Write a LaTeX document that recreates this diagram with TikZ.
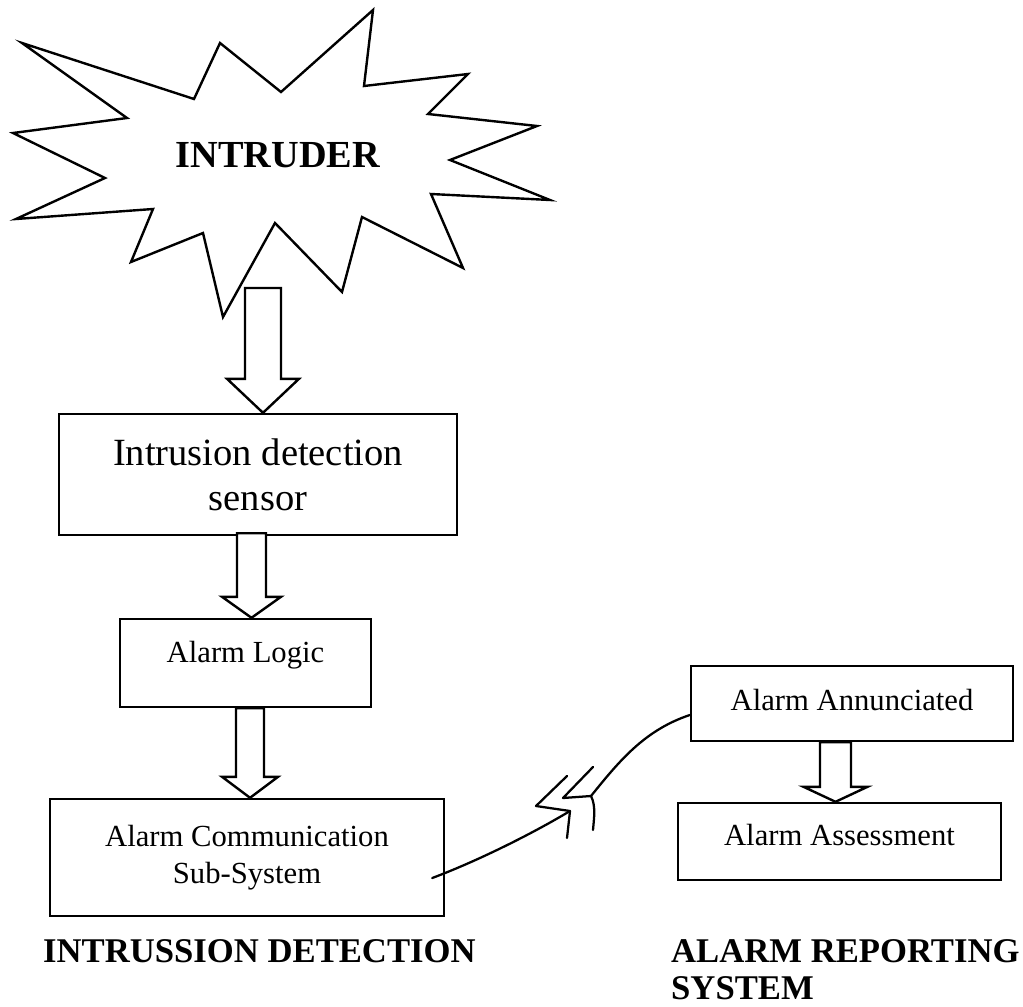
\documentclass[tikz,border=0pt]{standalone}
\usepackage{fontspec}
\setmainfont{Liberation Serif}
\usetikzlibrary{calc}

% Hollow block arrow: #1 start (shaft top centre), #2 tip, #3 shaft half-width,
% #4 head half-width, #5 head length (all in picture units)
\newcommand{\hollowarrow}[5]{%
  \draw[hollow] ($#1+(-#3,0)$) -- ($#2+(-#3,-#5)$) -- ($#2+(-#4,-#5)$) -- ($#2$)
    -- ($#2+(#4,-#5)$) -- ($#2+(#3,-#5)$) -- ($#1+(#3,0)$) -- cycle;}

\begin{document}
\begin{tikzpicture}[x=0.75pt, y=-0.75pt,
  line width=1.8pt,
  box/.style={draw, rectangle, inner sep=0pt, line width=1.8pt, align=center},
  hollow/.style={draw, fill=white, line width=1.8pt, line join=miter},
  wire/.style={draw, line width=1.7pt, line cap=round, line join=round},
  smalltext/.style={font=\fontsize{23}{27.6}\selectfont},
  heading/.style={font=\bfseries\fontsize{26}{27.75}\selectfont, inner sep=0pt}]

\useasboundingbox (0,0) rectangle (1023,1006);

% the intruder burst
\draw[line width=1.8pt, line join=miter, miter limit=20]
  (22,43) -- (194,99) -- (220,43) -- (281,92) -- (373,10) -- (364,86)
  -- (468,74) -- (428,114) -- (537,126) -- (450,160) -- (550,200)
  -- (431,194) -- (463,268) -- (362,217) -- (342,292) -- (275,223)
  -- (223,317) -- (203,233) -- (131,262) -- (153,209) -- (16,219)
  -- (105,178) -- (13,133) -- (127,118) -- cycle;
\node[font=\bfseries\fontsize{28.7}{34}\selectfont, anchor=base, inner sep=0pt]
  (intruder) at (278,167) {INTRUDER};
\coordinate (burstfoot) at (263,288);

% intrusion detection chain
\node[box, minimum width=298.5pt, minimum height=90.75pt,
      font=\fontsize{28.9}{33.75}\selectfont]
  (sensor) at (258,474.5) {Intrusion detection\\sensor};
\node[box, minimum width=188.25pt, minimum height=66pt, smalltext,
      text height=15.75pt, text depth=17.25pt]
  (logic) at (245.5,663) {Alarm Logic};
\node[box, minimum width=295.5pt, minimum height=87.75pt, smalltext]
  (comm) at (247,857.5) {Alarm Communication\\Sub-System};

% alarm reporting chain
\node[box, minimum width=241.5pt, minimum height=56.25pt, smalltext,
      text height=15.75pt, text depth=6pt]
  (annunc) at (852,703.5) {Alarm Annunciated};
\node[box, minimum width=242.25pt, minimum height=57.75pt, smalltext,
      text height=15.75pt, text depth=10.5pt]
  (assess) at (839.5,841.5) {Alarm Assessment};

% flow arrows
\hollowarrow{(burstfoot)}{(sensor.north)+(5,0)}{18}{36}{34}
\hollowarrow{(sensor.south)+(-6.5,-3)}{(logic.north)+(6,0)}{14.5}{29.5}{21}
\hollowarrow{(logic.south)+(4.5,0)}{(comm.north)+(3,0)}{14}{28}{21}
\hollowarrow{(annunc.south)+(-16.5,0)}{(assess.north)+(-4,0)}{15.5}{32}{15}

% broken communication link between the two systems
\coordinate (brkA) at (570,811);
\coordinate (brkB) at (591,796);
\draw[wire] ($(comm.east)+(-13,20.5)$) .. controls (475,862) and (530,835) .. (brkA);
\draw[wire] (567,776) -- (536,806) -- (brkA) -- (567,838);
\draw[wire] (593,767) -- (563,798) -- (brkB) .. controls (596,806) and (594,818) .. (593,830);
\draw[wire] (brkB) .. controls (620,760) and (645,730) .. ($(annunc.west)+(0,11.5)$);

% system captions
\node[heading, anchor=base west] (idcap) at (42,962) {INTRUSSION DETECTION};
\node[heading, anchor=north west, align=left] (arcap) at (670,938.5)
  {ALARM REPORTING\\SYSTEM};

\end{tikzpicture}
\end{document}
